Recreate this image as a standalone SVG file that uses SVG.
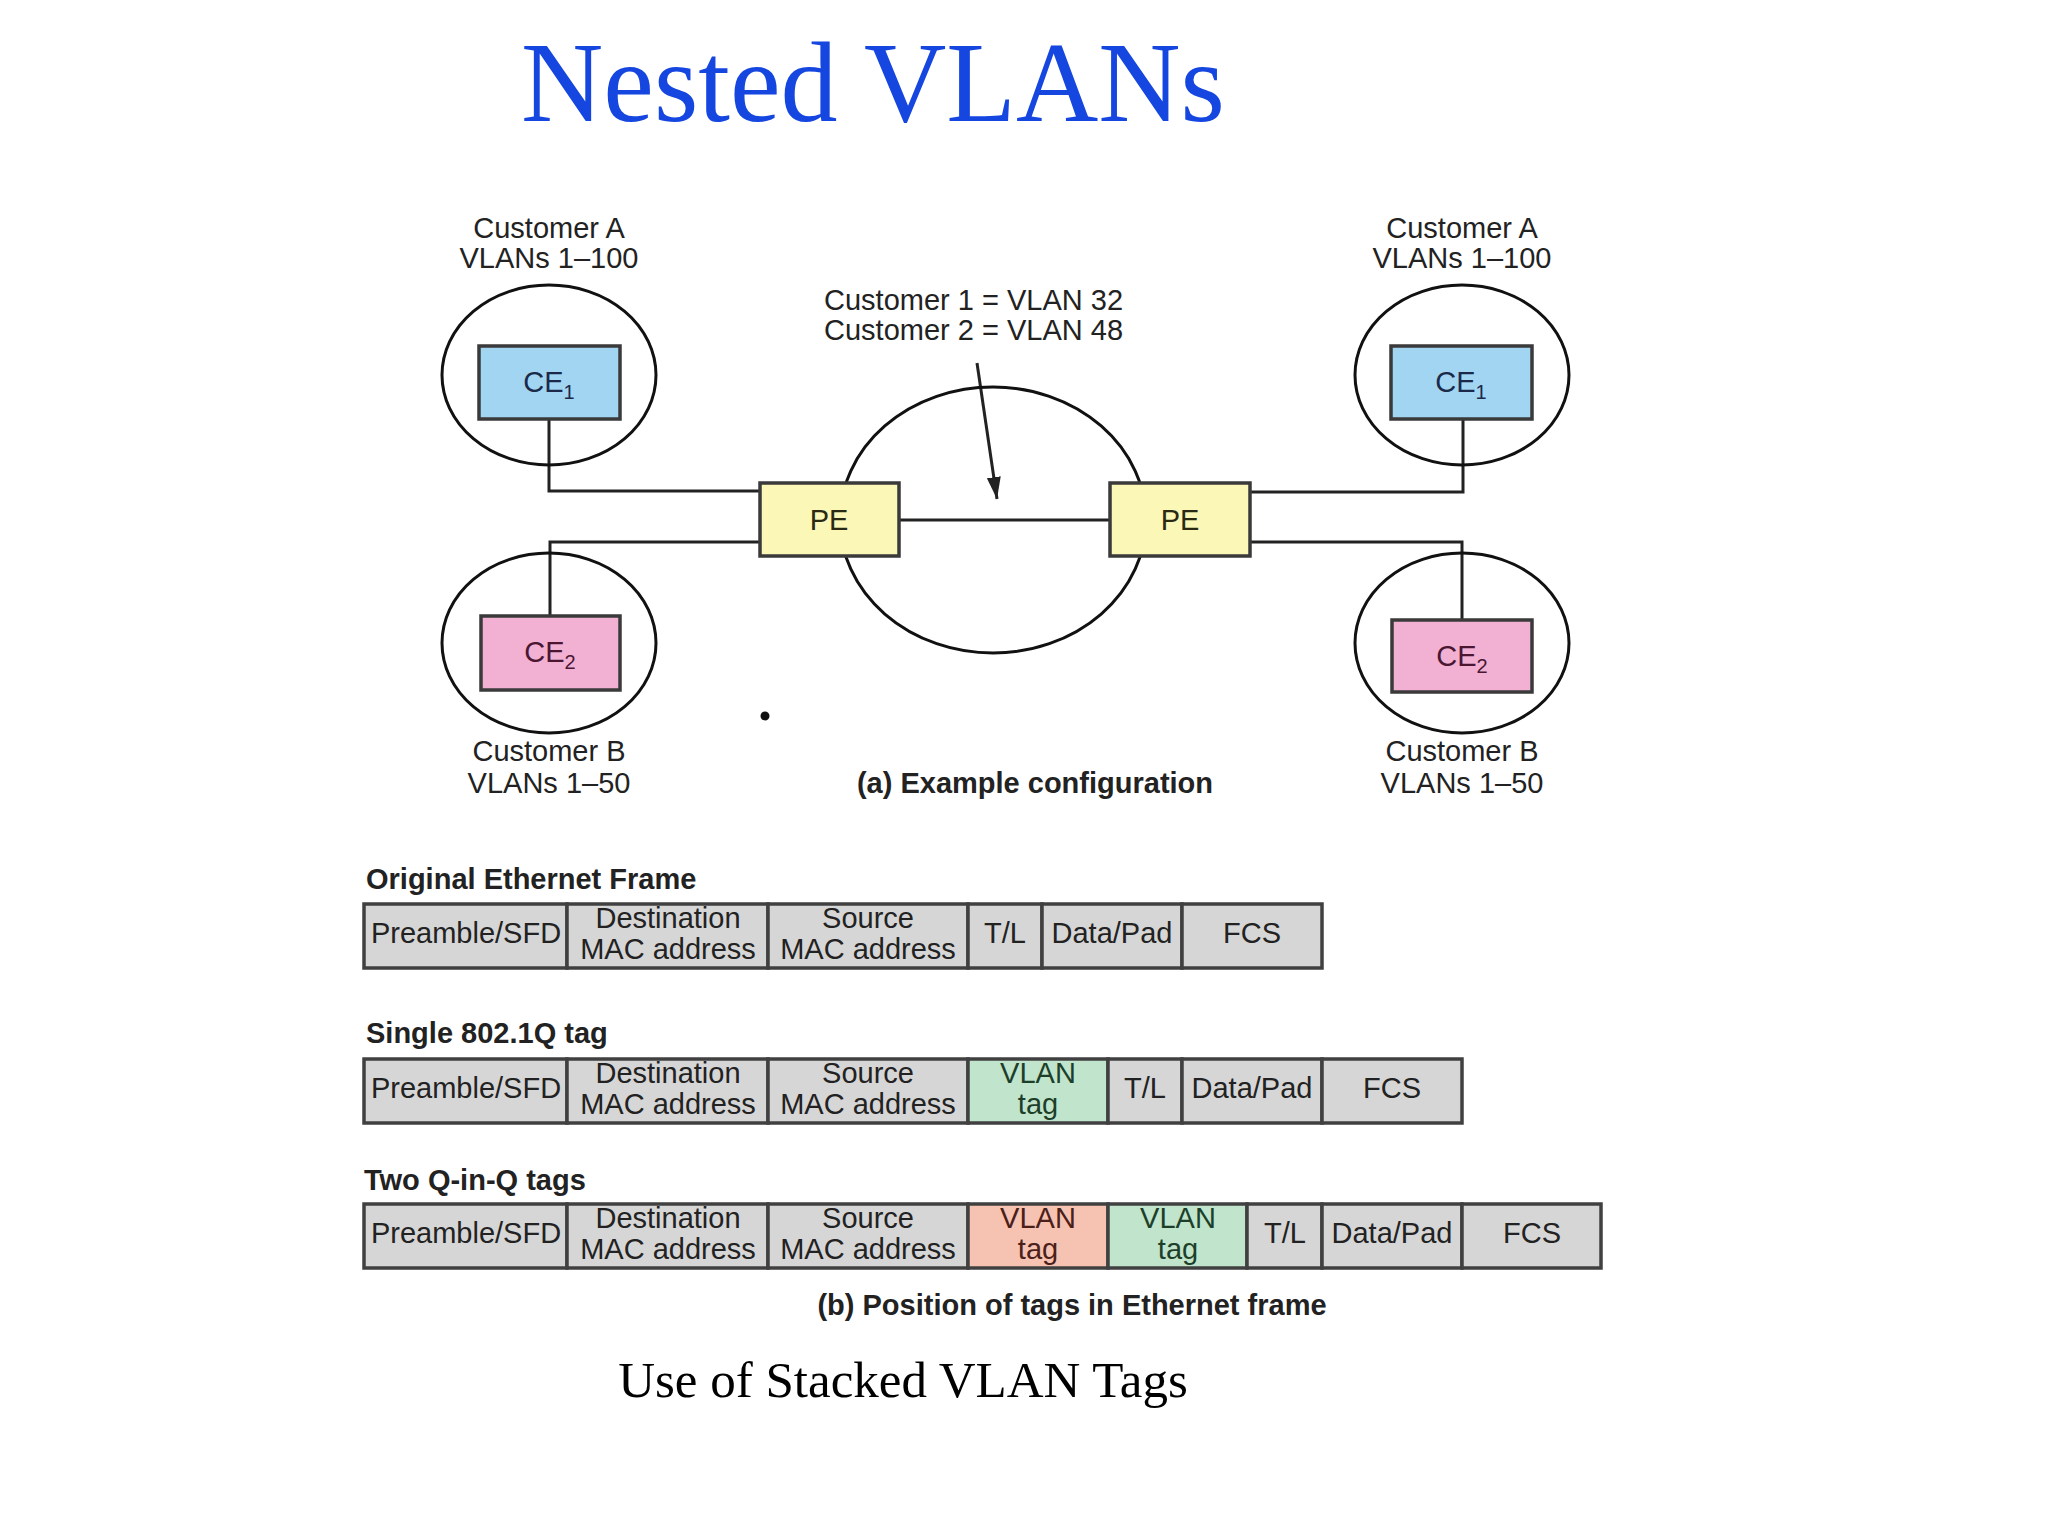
<svg xmlns="http://www.w3.org/2000/svg" width="2048" height="1536" viewBox="0 0 2048 1536">
<defs>
<style>
.t{font-family:"Liberation Sans",Arial,sans-serif;font-size:29px;fill:#222;text-anchor:middle}
.b{font-family:"Liberation Sans",Arial,sans-serif;font-size:29px;font-weight:bold;fill:#222}
.serif{font-family:"Liberation Serif","Times New Roman",serif}
.ell{fill:none;stroke:#111;stroke-width:3}
.box{stroke:#3a3a3a;stroke-width:3.5}
.ce1{fill:#a2d5f2}
.ce2{fill:#f2b1d2}
.pe{fill:#fbf7b6}
.cell{fill:#d6d6d6;stroke:#404040;stroke-width:3.5}
.gr{fill:#c0e4cc;stroke:#404040;stroke-width:3.5}
.rd{fill:#f6c2b2;stroke:#404040;stroke-width:3.5}
.con{fill:none;stroke:#222;stroke-width:3}
.sub{font-size:20px}
</style>
<marker id="arr" viewBox="0 0 22 14" refX="22" refY="7" markerWidth="22" markerHeight="14" markerUnits="userSpaceOnUse" orient="auto">
<path d="M0,0 L22,7 L0,14 Z" fill="#222"/>
</marker>
</defs>
<rect width="2048" height="1536" fill="#fff"/>

<text class="serif" x="873" y="121" font-size="114" fill="#1547e0" text-anchor="middle">Nested VLANs</text>

<g id="connectors">
<polyline class="con" points="549,419 549,491 760,491"/>
<polyline class="con" points="760,542 550,542 550,616"/>
<line class="con" x1="899" y1="520" x2="1110" y2="520"/>
<polyline class="con" points="1250,492 1463,492 1463,419"/>
<polyline class="con" points="1250,542 1462,542 1462,620"/>
<line class="con" x1="977" y1="363" x2="997" y2="499" marker-end="url(#arr)"/>
</g>

<g id="provider-cloud">
<ellipse class="ell" cx="993" cy="520" rx="153" ry="133"/>
</g>

<g id="customer-a-left">
<ellipse class="ell" cx="549" cy="375" rx="107" ry="90"/>
<text class="t" x="549" y="238">Customer A</text>
<text class="t" x="549" y="268">VLANs 1–100</text>
</g>
<g id="ce1-left">
<rect class="box ce1" x="479" y="346" width="141" height="73"/>
<text class="t" x="549" y="392" style="fill:#1b2a4a">CE<tspan class="sub" dy="7">1</tspan></text>
</g>

<g id="customer-b-left">
<ellipse class="ell" cx="549" cy="643" rx="107" ry="90"/>
<text class="t" x="549" y="761">Customer B</text>
<text class="t" x="549" y="793">VLANs 1–50</text>
</g>
<g id="ce2-left">
<rect class="box ce2" x="481" y="616" width="139" height="74"/>
<text class="t" x="550" y="662" style="fill:#4a1632">CE<tspan class="sub" dy="7">2</tspan></text>
</g>

<g id="pe-left">
<rect class="box pe" x="760" y="483" width="139" height="73"/>
<text class="t" x="829" y="530" style="fill:#2a2a14">PE</text>
</g>
<g id="pe-right">
<rect class="box pe" x="1110" y="483" width="140" height="73"/>
<text class="t" x="1180" y="530" style="fill:#2a2a14">PE</text>
</g>

<g id="customer-a-right">
<ellipse class="ell" cx="1462" cy="375" rx="107" ry="90"/>
<text class="t" x="1462" y="238">Customer A</text>
<text class="t" x="1462" y="268">VLANs 1–100</text>
</g>
<g id="ce1-right">
<rect class="box ce1" x="1391" y="346" width="141" height="73"/>
<text class="t" x="1461" y="392" style="fill:#1b2a4a">CE<tspan class="sub" dy="7">1</tspan></text>
</g>

<g id="customer-b-right">
<ellipse class="ell" cx="1462" cy="643" rx="107" ry="90"/>
<text class="t" x="1462" y="761">Customer B</text>
<text class="t" x="1462" y="793">VLANs 1–50</text>
</g>
<g id="ce2-right">
<rect class="box ce2" x="1392" y="620" width="140" height="72"/>
<text class="t" x="1462" y="666" style="fill:#4a1632">CE<tspan class="sub" dy="7">2</tspan></text>
</g>

<g id="vlan-note">
<text class="t" x="824" y="310" style="text-anchor:start">Customer 1 = VLAN 32</text>
<text class="t" x="824" y="340" style="text-anchor:start">Customer 2 = VLAN 48</text>
</g>

<circle cx="765" cy="716" r="4.5" fill="#111"/>
<text class="b" x="1035" y="793" text-anchor="middle">(a) Example configuration</text>

<g id="frame-original">
<text class="b" x="366" y="889">Original Ethernet Frame</text>
<rect class="cell" x="364" y="904" width="203" height="64"/>
<rect class="cell" x="567" y="904" width="201" height="64"/>
<rect class="cell" x="768" y="904" width="200" height="64"/>
<rect class="cell" x="968" y="904" width="74" height="64"/>
<rect class="cell" x="1042" y="904" width="140" height="64"/>
<rect class="cell" x="1182" y="904" width="140" height="64"/>
<text class="t" x="466" y="943">Preamble/SFD</text>
<text class="t" x="668" y="928">Destination</text>
<text class="t" x="668" y="959">MAC address</text>
<text class="t" x="868" y="928">Source</text>
<text class="t" x="868" y="959">MAC address</text>
<text class="t" x="1005" y="943">T/L</text>
<text class="t" x="1112" y="943">Data/Pad</text>
<text class="t" x="1252" y="943">FCS</text>
</g>

<g id="frame-single">
<text class="b" x="366" y="1043">Single 802.1Q tag</text>
<rect class="cell" x="364" y="1059" width="203" height="64"/>
<rect class="cell" x="567" y="1059" width="201" height="64"/>
<rect class="cell" x="768" y="1059" width="200" height="64"/>
<rect class="gr" x="968" y="1059" width="140" height="64"/>
<rect class="cell" x="1108" y="1059" width="74" height="64"/>
<rect class="cell" x="1182" y="1059" width="140" height="64"/>
<rect class="cell" x="1322" y="1059" width="140" height="64"/>
<text class="t" x="466" y="1098">Preamble/SFD</text>
<text class="t" x="668" y="1083">Destination</text>
<text class="t" x="668" y="1114">MAC address</text>
<text class="t" x="868" y="1083">Source</text>
<text class="t" x="868" y="1114">MAC address</text>
<text class="t" x="1038" y="1083" style="fill:#1d3f2a">VLAN</text>
<text class="t" x="1038" y="1114" style="fill:#1d3f2a">tag</text>
<text class="t" x="1145" y="1098">T/L</text>
<text class="t" x="1252" y="1098">Data/Pad</text>
<text class="t" x="1392" y="1098">FCS</text>
</g>

<g id="frame-qinq">
<text class="b" x="364" y="1190">Two Q-in-Q tags</text>
<rect class="cell" x="364" y="1204" width="203" height="64"/>
<rect class="cell" x="567" y="1204" width="201" height="64"/>
<rect class="cell" x="768" y="1204" width="200" height="64"/>
<rect class="rd" x="968" y="1204" width="140" height="64"/>
<rect class="gr" x="1108" y="1204" width="139" height="64"/>
<rect class="cell" x="1247" y="1204" width="75" height="64"/>
<rect class="cell" x="1322" y="1204" width="140" height="64"/>
<rect class="cell" x="1462" y="1204" width="139" height="64"/>
<text class="t" x="466" y="1243">Preamble/SFD</text>
<text class="t" x="668" y="1228">Destination</text>
<text class="t" x="668" y="1259">MAC address</text>
<text class="t" x="868" y="1228">Source</text>
<text class="t" x="868" y="1259">MAC address</text>
<text class="t" x="1038" y="1228" style="fill:#4a2018">VLAN</text>
<text class="t" x="1038" y="1259" style="fill:#4a2018">tag</text>
<text class="t" x="1178" y="1228" style="fill:#1d3f2a">VLAN</text>
<text class="t" x="1178" y="1259" style="fill:#1d3f2a">tag</text>
<text class="t" x="1285" y="1243">T/L</text>
<text class="t" x="1392" y="1243">Data/Pad</text>
<text class="t" x="1532" y="1243">FCS</text>
</g>

<text class="b" x="1072" y="1315" text-anchor="middle">(b) Position of tags in Ethernet frame</text>

<text class="serif" x="903" y="1397" font-size="51" fill="#000" text-anchor="middle">Use of Stacked VLAN Tags</text>
</svg>
